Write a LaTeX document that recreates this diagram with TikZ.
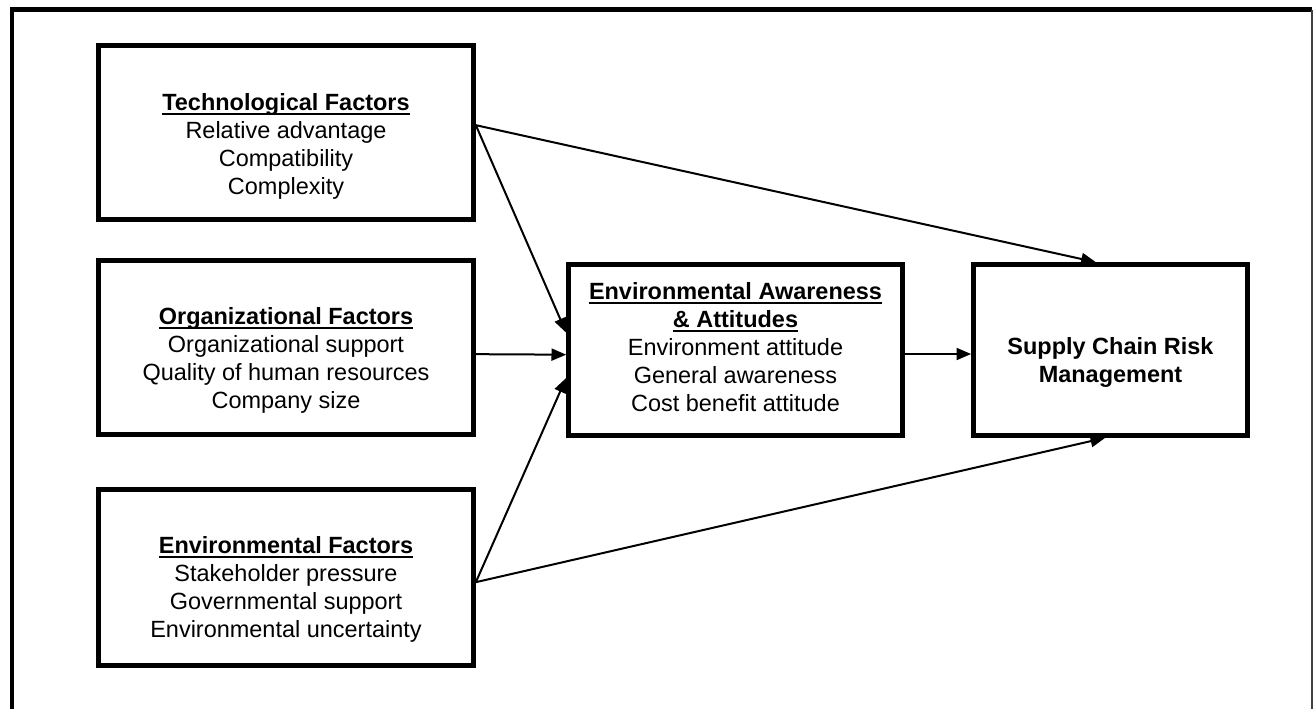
\documentclass[tikz,border=0pt]{standalone}
\usepackage{fontspec}
\setmainfont{Liberation Sans}
\usetikzlibrary{arrows.meta}
\newsavebox{\ulbox}
\newcommand\ultitle[1]{\sbox{\ulbox}{\bfseries #1}\leavevmode\usebox{\ulbox}\kern-\wd\ulbox\rule[-3.6pt]{\wd\ulbox}{1.5pt}}
\begin{document}
\begin{tikzpicture}[x=0.75pt,y=-0.75pt,
  boxnode/.style={draw=black,line width=3.5pt,rectangle,inner sep=0pt},
  txt/.style={align=center,font=\fontsize{17.6}{21}\selectfont,inner sep=0pt},
  arr/.style={line width=1.5pt,-{Triangle[length=11pt,width=9pt]}},
  frame/.style={line width=3.5pt}
]
\useasboundingbox (0,0) rectangle (1314,708);
% outer frame
\draw[frame] (12,720) -- (12,9.5) -- (1312,9.5);
\draw[line width=1.5pt,black!75] (1312,9.5) -- (1312,720);
% boxes
\node[boxnode,minimum width=281.25pt,minimum height=130.5pt] (tech) at (286,132.5) {};
\node[boxnode,minimum width=281.25pt,minimum height=130.5pt] (org) at (286,347.5) {};
\node[boxnode,minimum width=281.25pt,minimum height=132pt] (env) at (286,577.5) {};
\node[boxnode,minimum width=250.5pt,minimum height=128.25pt] (eaa) at (735.5,350) {};
\node[boxnode,minimum width=205.5pt,minimum height=128.25pt] (scrm) at (1110.5,350) {};
% texts
\node[txt] (techT) at (286,146) {\ultitle{Technological Factors}\\Relative advantage\\Compatibility\\Complexity};
\node[txt] (orgT) at (286,360) {\ultitle{Organizational Factors}\\Organizational support\\Quality of human resources\\Company size};
\node[txt] (envT) at (286,589) {\ultitle{Environmental Factors}\\Stakeholder pressure\\Governmental support\\Environmental uncertainty};
\node[txt] (eaaT) at (735.5,347) {\ultitle{Environmental Awareness}\\\ultitle{\& Attitudes}\\Environment attitude\\General awareness\\Cost benefit attitude};
\node[txt] (scrmT) at (1110.5,362) {\textbf{Supply Chain Risk}\\\textbf{Management}};
% arrows
\draw[arr] ([yshift=5.5pt]tech.east) -- ([xshift=-11pt]scrm.north);
\draw[arr] ([yshift=5.5pt]tech.east) -- ([yshift=13pt]eaa.west);
\draw[arr] ([yshift=-5pt]org.east) -- ([yshift=-3.5pt]eaa.west);
\draw[arr] ([yshift=-3.5pt]env.east) -- ([yshift=-21pt]eaa.west);
\draw[arr] ([yshift=-3.5pt]env.east) -- ([xshift=-4pt]scrm.south);
\draw[arr] ([yshift=-3pt]eaa.east) -- ([yshift=-3pt]scrm.west);
\end{tikzpicture}
\end{document}
